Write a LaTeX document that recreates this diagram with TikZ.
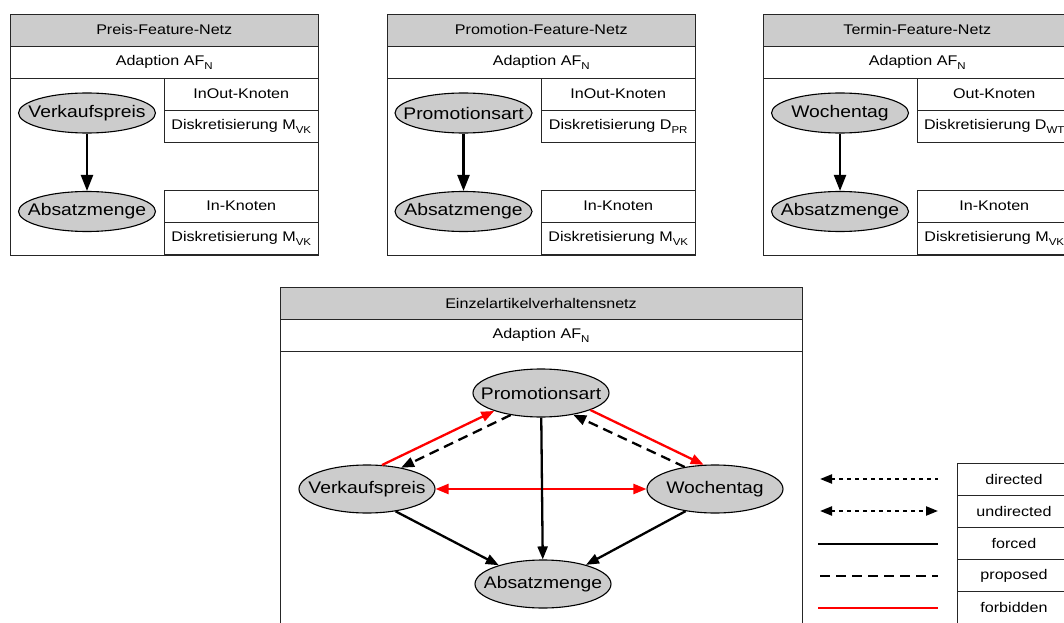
\documentclass[tikz,border=0pt]{standalone}
\usepackage{fontspec}
\setmainfont[FakeStretch=1.15]{Liberation Sans}
\usetikzlibrary{arrows.meta,shapes.geometric}

\definecolor{nodegray}{HTML}{CCCCCC}
\definecolor{forbidred}{HTML}{FF0000}

\newcommand{\subidx}[1]{\raisebox{-4pt}{\fontsize{10}{11}\selectfont #1}}

\tikzset{
  edgetip/.tip={Triangle[length=13pt,width=10pt]},
  legtip/.tip={Triangle[length=12pt,width=9pt]},
  frame/.style={draw=black!85, line width=0.9pt},
  cell/.style={frame, rectangle, minimum width=154.5pt, minimum height=32pt,
    inner sep=0pt, font=\fontsize{14}{16}\selectfont},
  headcell/.style={cell, fill=nodegray},
  var/.style={ellipse, draw=black, line width=1.1pt, fill=nodegray,
    minimum width=136pt, minimum height=48pt, inner ysep=0pt, inner xsep=-25pt,
    font=\fontsize{16.8}{19}\selectfont},
  smallvar/.style={var, minimum width=137pt, minimum height=40pt},
  forced/.style={line width=2.3pt, -edgetip},
  proposed/.style={forced, dash pattern=on 10pt off 6pt},
  forbidden/.style={forced, color=forbidred},
  featarrow/.style={line width=2.3pt, -{Triangle[length=16pt,width=12pt]}},
  legline/.style={line width=2.2pt}
}

\begin{document}
\begin{tikzpicture}[x=1pt,y=1pt]
\useasboundingbox (0,0) rectangle (1064,622);

% Preis-Feature-Netz
\draw[frame] (10,544) rectangle (318.5,367);
\node[headcell, minimum width=308.5pt] (preishead) at (164.25,592) {Preis-Feature-Netz};
\node[cell, minimum width=308.5pt] (preisadapt) at (164.25,560) {Adaption AF\subidx{N}};
\node[cell] (preistype1) at (241.25,528) {InOut-Knoten};
\node[cell] (preisdisc1) at (241.25,496) {Diskretisierung M\subidx{VK}};
\node[cell] (preistype2) at (241.25,416) {In-Knoten};
\node[cell] (preisdisc2) at (241.25,384) {Diskretisierung M\subidx{VK}};
\node[smallvar] (preisvk) at (87,509) {Verkaufspreis};
\node[smallvar] (preisam) at (87,410.5) {Absatzmenge};
\draw[featarrow] (preisvk) -- (preisam);

% Promotion-Feature-Netz
\draw[frame] (387,544) rectangle (695.5,367);
\node[headcell, minimum width=308.5pt] (promohead) at (541.25,592) {Promotion-Feature-Netz};
\node[cell, minimum width=308.5pt] (promoadapt) at (541.25,560) {Adaption AF\subidx{N}};
\node[cell] (promotype1) at (618.25,528) {InOut-Knoten};
\node[cell] (promodisc1) at (618.25,496) {Diskretisierung D\subidx{PR}};
\node[cell] (promotype2) at (618.25,416) {In-Knoten};
\node[cell] (promodisc2) at (618.25,384) {Diskretisierung M\subidx{VK}};
\node[smallvar] (promopa) at (463.5,509) {Promotionsart};
\node[smallvar] (promoam) at (463.5,410.5) {Absatzmenge};
\draw[featarrow] (promopa) -- (promoam);

% Termin-Feature-Netz
\draw[frame] (763,544) rectangle (1071.5,367);
\node[headcell, minimum width=308.5pt] (terminhead) at (917.25,592) {Termin-Feature-Netz};
\node[cell, minimum width=308.5pt] (terminadapt) at (917.25,560) {Adaption AF\subidx{N}};
\node[cell] (termintype1) at (994.25,528) {Out-Knoten};
\node[cell] (termindisc1) at (994.25,496) {Diskretisierung D\subidx{WT}};
\node[cell] (termintype2) at (994.25,416) {In-Knoten};
\node[cell] (termindisc2) at (994.25,384) {Diskretisierung M\subidx{VK}};
\node[smallvar] (terminwt) at (840,509) {Wochentag};
\node[smallvar] (terminam) at (840,410.5) {Absatzmenge};
\draw[featarrow] (terminwt) -- (terminam);

% Einzelartikelverhaltensnetz
\draw[frame] (280,271) rectangle (802,-10);
\node[headcell, minimum width=522pt] (einzelhead) at (541,319) {Einzelartikelverhaltensnetz};
\node[cell, minimum width=522pt] (einzeladapt) at (541,287) {Adaption AF\subidx{N}};
\node[var] (vk) at (367,133) {Verkaufspreis};
\node[var] (pa) at (541,229) {Promotionsart};
\node[var] (wt) at (715,133) {Wochentag};
\node[var] (am) at (543,38) {Absatzmenge};

\draw[forbidden] (vk.58) -- (pa.201.6);
\draw[proposed] (pa.216.6) -- (vk.32);
\draw[forbidden] (pa.341.6) -- (wt.115.6);
\draw[proposed] (wt.144.3) -- (pa.326.3);
\draw[forbidden, edgetip-edgetip] (vk.east) -- (wt.west);
\draw[forced] (pa) -- (am);
\draw[forced] (vk.322.5) -- (am.157.6);
\draw[forced] (wt.217.5) -- (am.24.3);

% Legende
\node[cell, minimum width=114pt] (legdir) at (1014,142.5) {directed};
\node[cell, minimum width=114pt] (legundir) at (1014,110.5) {undirected};
\node[cell, minimum width=114pt] (legforced) at (1014,78.5) {forced};
\node[cell, minimum width=114pt] (legprop) at (1014,46.5) {proposed};
\node[cell, minimum width=114pt] (legforbid) at (1014,14.5) {forbidden};

\coordinate (dirA) at (820,143);   \coordinate (dirB) at (938,143);
\coordinate (undirA) at (820,111); \coordinate (undirB) at (938,111);
\coordinate (forcA) at (818,78);   \coordinate (forcB) at (938,78);
\coordinate (propA) at (820,46);   \coordinate (propB) at (938,46);
\coordinate (forbA) at (818,14);   \coordinate (forbB) at (938,14);

\draw[legline, dash pattern=on 4pt off 4pt, legtip-] (dirA) -- (dirB);
\draw[legline, dash pattern=on 4pt off 4pt, legtip-legtip] (undirA) -- (undirB);
\draw[legline] (forcA) -- (forcB);
\draw[legline, dash pattern=on 10pt off 6pt] (propA) -- (propB);
\draw[legline, forbidred] (forbA) -- (forbB);
\end{tikzpicture}
\end{document}
